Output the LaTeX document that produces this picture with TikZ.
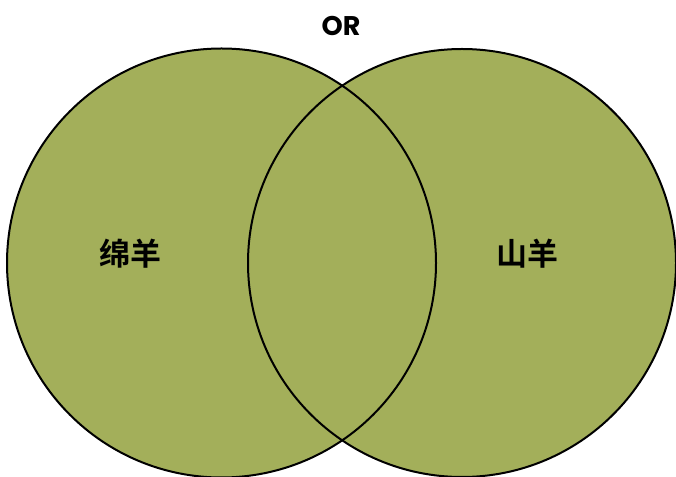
\documentclass[tikz,border=0pt]{standalone}
\usepackage{fontspec}
\setmainfont{Poppins}
\newfontfamily\cjk{Noto Sans CJK SC Bold}
\definecolor{venn}{HTML}{A3AF5A}
\begin{document}
\begin{tikzpicture}[x=1pt,y=1pt,
  setcircle/.style={fill=venn},
  setedge/.style={draw=black,line width=2pt},
  setlabel/.style={font=\cjk\fontsize{31}{33}\selectfont,text=black}]
\useasboundingbox (0,0) rectangle (676,476);
\begin{scope}
\clip (0,0) rectangle (676,476);
\path[setcircle] (221.5,213) circle (214.5);
\path[setcircle] (462,213) circle (214);
\path[setedge] (221.5,213) circle (214.5);
\path[setedge] (462,213) circle (214);
\end{scope}
\node[font=\bfseries\fontsize{27}{29}\selectfont] (op) at (341,450) {OR};
\node[setlabel] (a) at (130,222) {绵羊};
\node[setlabel] (b) at (527,222) {山羊};
\end{tikzpicture}
\end{document}
